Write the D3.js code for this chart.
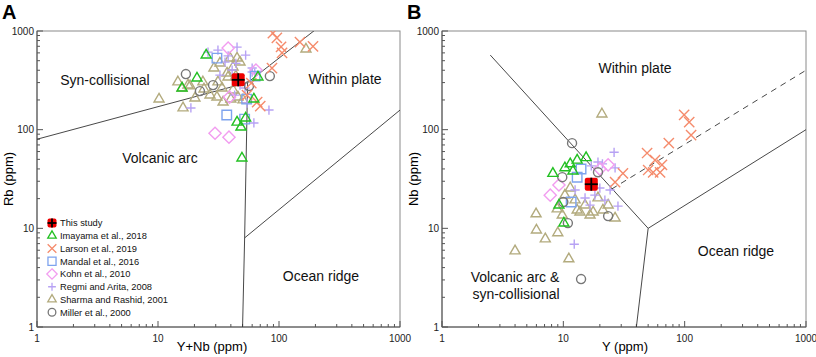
<!DOCTYPE html>
<html>
<head>
<meta charset="utf-8">
<script src="https://cdn.jsdelivr.net/npm/d3@7"></script>
<style>
  body { margin: 0; background: #fff; }
  text { font-family: Arial, "Liberation Sans", sans-serif; }
</style>
</head>
<body>
<div id="container"></div>
<script>
let w = 816;
let h = 357;

// ---- data: panel A, Rb vs Y+Nb  [Y+Nb, Rb]
let thisStudyA = [[46, 320]];
let imayamaA = [[25, 570], [21, 333], [15.8, 264], [62, 204], [67, 341], [45, 119], [48.5, 106], [53, 131], [49.4, 51.5]];
let larsonA = [[89, 950], [96, 850], [104, 690], [106, 600], [149, 770], [191, 700], [87.5, 420], [66, 190], [54.4, 224], [70, 173], [59, 297]];
let mandalA = [[30.7, 531], [37, 141], [52, 128], [54, 204], [63.5, 349]];
let kohnA = [[38, 671], [29.6, 92], [38.6, 84], [64.5, 402], [39, 214]];
let regmiA = [[25.9, 611], [31.3, 640], [45, 687], [53, 570], [18.7, 166], [82.6, 158], [62, 117], [54.4, 186],
              [35.8, 484], [41, 402], [47.6, 283], [32.5, 357], [60, 384], [52.4, 264], [43, 224],
              [60, 421], [63, 374], [38, 560], [44, 470]];
let sharmaA = [[167, 656], [10.2, 204], [16.1, 166], [14.6, 304], [15.8, 264], [20.2, 209], [26.9, 224], [29, 421],
               [32.5, 473], [39.4, 531], [45, 531], [47.6, 484], [41.7, 431], [37.2, 374], [31.3, 304], [33.8, 264],
               [41.7, 252], [45.8, 214], [50.4, 200], [24, 258], [18.4, 277], [30.7, 214], [40, 204], [17.7, 283],
               [23.5, 304], [37.9, 341], [34.5, 190], [44, 349]];
let millerA = [[17, 366], [22.2, 246], [28.5, 283], [84, 349], [56.5, 277]];

// ---- data: panel B, Nb vs Y  [Y, Nb]
let thisStudyB = [[17, 28]];
let imayamaB = [[8.2, 36], [10.3, 41], [11.4, 45], [13, 49], [15.4, 52], [9.2, 17.2], [10.1, 11.3], [12, 38]];
let larsonB = [[99, 141], [109, 119], [113, 88], [74, 73], [49, 58], [57, 49], [65, 44], [50, 39], [55, 37],
               [62.7, 37], [31, 36], [26.7, 29.4]];
let mandalB = [[14, 40], [11.6, 18.5], [13, 33]];
let kohnB = [[7.8, 21.7], [9.2, 27.5], [23.4, 44], [20, 40]];
let regmiB = [[26.2, 59], [19.3, 47], [26.7, 41], [28.2, 16.8], [12.3, 6.9], [15.1, 20.3], [18.2, 21.7], [22, 19.3],
              [12.5, 24.5], [24.3, 24.5], [16.6, 17.2], [20, 25.6], [21, 45], [17, 43]];
let sharmaB = [[5.96, 14], [6, 9.6], [7.1, 7.8], [9, 9], [4, 5.9], [11.1, 4.9], [8.9, 15.7], [9.8, 13.6], [13, 15.3],
               [13.7, 14.6], [17.6, 14.6], [26.7, 12.7], [23.4, 17.2], [11.4, 25.6], [20.8, 144], [12.5, 19.4],
               [15.1, 17.2], [19.3, 20.3], [10.3, 21.7], [16.6, 13.6], [21.2, 15.3]];
let millerB = [[11.8, 73], [10, 18.5], [10.9, 11.3], [23.4, 13.3], [14, 3.06], [9.8, 33], [19.3, 37]];

// ---- discrimination boundaries (Pearce et al., 1984)
let boundsA = [
  [[1, 80], [55, 300]],
  [[55, 300], [400, 2000]],
  [[55, 300], [52, 8], [50, 1]],
  [[52, 8], [1000, 158]]
];
let boundsB = [
  [[2.5, 570], [50, 10]],
  [[50, 10], [40, 1]],
  [[50, 10], [1000, 100]]
];
let dashedB = [[25, 25], [1000, 400]];

let tickValues = [1, 10, 100, 1000];

let series = [
  {name: "Sharma and Rashid, 2001", key: "sharma", color: "#b3ab7e", shape: "triangle"},
  {name: "Regmi and Arita, 2008", key: "regmi", color: "#b7a2f4", shape: "plus"},
  {name: "Kohn et al., 2010", key: "kohn", color: "#f29df0", shape: "diamond"},
  {name: "Mandal et al., 2016", key: "mandal", color: "#7ea3ee", shape: "square"},
  {name: "Miller et al., 2000", key: "miller", color: "#777777", shape: "circle"},
  {name: "Larson et al., 2019", key: "larson", color: "#f58b6c", shape: "times"},
  {name: "Imayama et al., 2018", key: "imayama", color: "#22c022", shape: "triangle"}
];
let dataA = {sharma: sharmaA, regmi: regmiA, kohn: kohnA, mandal: mandalA, miller: millerA, larson: larsonA, imayama: imayamaA};
let dataB = {sharma: sharmaB, regmi: regmiB, kohn: kohnB, mandal: mandalB, miller: millerB, larson: larsonB, imayama: imayamaB};

let legendOrder = ["This study", "Imayama et al., 2018", "Larson et al., 2019", "Mandal et al., 2016",
                   "Kohn et al., 2010", "Regmi and Arita, 2008", "Sharma and Rashid, 2001", "Miller et al., 2000"];

function shapePath(shape, scale) {
  let s = scale || 1;
  let types = {
    triangle: [d3.symbolTriangle2, 72],
    plus: [d3.symbolPlus, 30],
    diamond: [d3.symbolDiamond2, 95],
    square: [d3.symbolSquare2, 115],
    circle: [d3.symbolCircle, 64],
    times: [d3.symbolTimes, 70]
  };
  let t = types[shape];
  return d3.symbol().type(t[0]).size(t[1] * s * s)();
}

function drawThisStudy(g, x, y, size) {
  let gg = g.append("g").attr("transform", "translate(" + x + "," + y + ")");
  gg.append("rect").attr("x", -size / 2).attr("y", -size / 2).attr("width", size).attr("height", size)
    .attr("rx", 2).attr("fill", "#ee0000");
  gg.append("line").attr("x1", -size / 2).attr("x2", size / 2).attr("y1", 0).attr("y2", 0)
    .attr("stroke", "black").attr("stroke-width", 1.8);
  gg.append("line").attr("y1", -size / 2).attr("y2", size / 2).attr("x1", 0).attr("x2", 0)
    .attr("stroke", "black").attr("stroke-width", 1.8);
}

let svg = d3.select("#container").append("svg")
  .attr("width", w)
  .attr("height", h)
  .style("background-color", "white");

function drawPanel(opts) {
  let x = d3.scaleLog().domain([1, 1000]).range([opts.left, opts.right]);
  let y = d3.scaleLog().domain([1, 1000]).range([327, 31]);
  let g = svg.append("g");

  g.append("clipPath").attr("id", "clip" + opts.id)
    .append("rect").attr("x", opts.left).attr("y", 31)
    .attr("width", opts.right - opts.left).attr("height", 296);

  // frame
  g.append("rect").attr("x", opts.left).attr("y", 31)
    .attr("width", opts.right - opts.left).attr("height", 296)
    .attr("fill", "none").attr("stroke", "#8a8a8a").attr("stroke-width", 1);

  // axes with inside ticks
  let minor = [];
  for (let d = 1; d < 1000; d *= 10) for (let k = 2; k <= 9; k++) minor.push(d * k);

  let xAxis = g.append("g").attr("transform", "translate(0,327)");
  xAxis.selectAll(".minor").data(minor).enter().append("line")
    .attr("x1", d => x(d)).attr("x2", d => x(d)).attr("y1", 0).attr("y2", -3)
    .attr("stroke", "#555");
  xAxis.selectAll(".major").data(tickValues).enter().append("line")
    .attr("x1", d => x(d)).attr("x2", d => x(d)).attr("y1", 0).attr("y2", -6)
    .attr("stroke", "#555");
  xAxis.selectAll("text").data(tickValues).enter().append("text")
    .attr("x", d => x(d)).attr("y", 15).attr("text-anchor", "middle")
    .attr("font-size", 10).attr("fill", "#222").text(d => d);
  xAxis.append("line").attr("x1", opts.left).attr("x2", opts.right).attr("stroke", "#555");

  let yAxis = g.append("g").attr("transform", "translate(" + opts.left + ",0)");
  yAxis.selectAll(".minor").data(minor).enter().append("line")
    .attr("y1", d => y(d)).attr("y2", d => y(d)).attr("x1", 0).attr("x2", 3)
    .attr("stroke", "#555");
  yAxis.selectAll(".major").data(tickValues).enter().append("line")
    .attr("y1", d => y(d)).attr("y2", d => y(d)).attr("x1", 0).attr("x2", 6)
    .attr("stroke", "#555");
  yAxis.selectAll("text").data(tickValues).enter().append("text")
    .attr("x", -3).attr("y", d => y(d) + 3.5).attr("text-anchor", "end")
    .attr("font-size", 10).attr("fill", "#222").text(d => d);
  yAxis.append("line").attr("y1", 31).attr("y2", 327).attr("stroke", "#555");

  // titles
  g.append("text").attr("x", opts.xTitleX).attr("y", 351)
    .attr("text-anchor", "middle").attr("font-size", 13).text(opts.xTitle);
  g.append("text").attr("transform", "translate(" + (opts.left - 24) + ",179) rotate(-90)")
    .attr("text-anchor", "middle").attr("font-size", 13).text(opts.yTitle);
  g.append("text").attr("x", opts.left - 35).attr("y", 19)
    .attr("font-size", 20).attr("font-weight", "bold").text(opts.id);

  // boundaries
  let line = d3.line().x(d => x(d[0])).y(d => y(d[1]));
  let bg = g.append("g").attr("clip-path", "url(#clip" + opts.id + ")");
  bg.selectAll("path").data(opts.bounds).enter().append("path")
    .attr("d", line).attr("fill", "none").attr("stroke", "#333").attr("stroke-width", 0.9);
  if (opts.dashed) {
    bg.append("path").attr("d", line(opts.dashed)).attr("fill", "none")
      .attr("stroke", "#333").attr("stroke-width", 0.9).attr("stroke-dasharray", "6,5");
  }

  // field labels
  g.selectAll(".field").data(opts.fields).enter().append("text")
    .attr("x", d => d.x).attr("y", d => d.y).attr("text-anchor", "middle")
    .attr("font-size", 14).attr("fill", "#111").text(d => d.t);

  // points
  let pg = g.append("g").attr("clip-path", "url(#clip" + opts.id + ")");
  series.forEach(function(s) {
    pg.selectAll("." + s.key).data(opts.data[s.key]).enter().append("path")
      .attr("class", s.key)
      .attr("d", shapePath(s.shape))
      .attr("transform", d => "translate(" + x(d[0]) + "," + y(d[1]) + ")")
      .attr("fill", "none").attr("stroke", s.color).attr("stroke-width", 1.4);
  });
  opts.thisStudy.forEach(function(d) {
    drawThisStudy(pg, x(d[0]), y(d[1]), 13);
  });
}

drawPanel({
  id: "A", left: 37, right: 400,
  xTitle: "Y+Nb (ppm)", xTitleX: 212, yTitle: "Rb (ppm)",
  bounds: boundsA, data: dataA, thisStudy: thisStudyA,
  fields: [
    {t: "Syn-collisional", x: 105, y: 85},
    {t: "Within plate", x: 345, y: 84},
    {t: "Volcanic arc", x: 160, y: 163},
    {t: "Ocean ridge", x: 321, y: 281}
  ]
});

drawPanel({
  id: "B", left: 442, right: 806,
  xTitle: "Y (ppm)", xTitleX: 625, yTitle: "Nb (ppm)",
  bounds: boundsB, dashed: dashedB, data: dataB, thisStudy: thisStudyB,
  fields: [
    {t: "Within plate", x: 635, y: 73},
    {t: "Ocean ridge", x: 736, y: 256},
    {t: "Volcanic arc &", x: 515, y: 282},
    {t: "syn-collisional", x: 516, y: 299}
  ]
});

// legend (panel A)
let lg = svg.append("g");
legendOrder.forEach(function(name, i) {
  let ly = 223 + i * 12.75;
  if (name == "This study") {
    drawThisStudy(lg, 52, ly, 9);
  } else {
    let s = series.find(d => d.name == name);
    lg.append("path").attr("d", shapePath(s.shape, 0.85))
      .attr("transform", "translate(52," + ly + ")")
      .attr("fill", "none").attr("stroke", s.color).attr("stroke-width", 1.3);
  }
  lg.append("text").attr("x", 60).attr("y", ly + 3.3).attr("font-size", 9.3)
    .attr("fill", "#111").text(name);
});
</script>
</body>
</html>
